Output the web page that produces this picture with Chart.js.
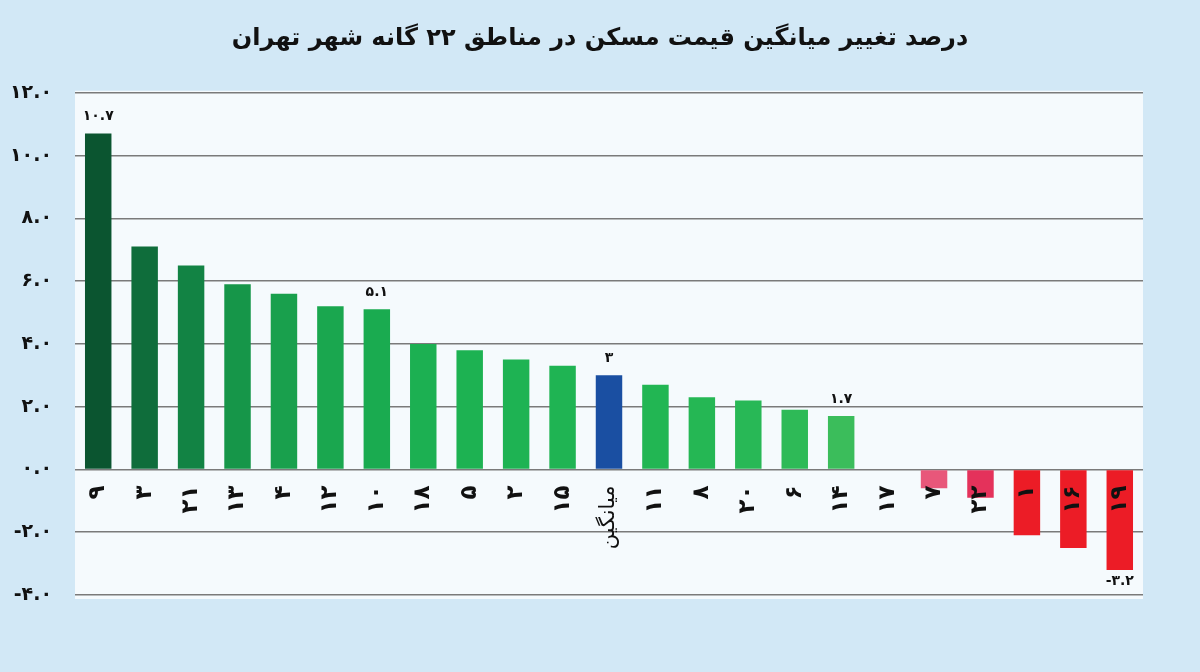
<!DOCTYPE html>
<html><head><meta charset="utf-8">
<script src="https://cdn.jsdelivr.net/npm/chart.js@4.4.1/dist/chart.umd.min.js"></script>
<style>html,body{margin:0;padding:0;background:#d2e8f6;} #wrap{width:1200px;height:672px;position:relative;}</style>
</head><body><div id="wrap"><canvas id="c"></canvas></div>
<script>
const chartTitle = 'درصد تغییر میانگین قیمت مسکن در مناطق ۲۲ گانه شهر تهران';
const categories = ['۹','۳','۲۱','۱۳','۴','۱۲','۱۰','۱۸','۵','۲','۱۵','میانگین','۱۱','۸','۲۰','۶','۱۴','۱۷','۷','۲۲','۱','۱۶','۱۹'];
const values = [10.7, 7.1, 6.5, 5.9, 5.6, 5.2, 5.1, 4.0, 3.8, 3.5, 3.3, 3.0, 2.7, 2.3, 2.2, 1.9, 1.7, 0, -0.6, -0.9, -2.1, -2.5, -3.2];
const valueLabels = ['۱۰.۷', null, null, null, null, null, '۵.۱', null, null, null, null, '۳', null, null, null, null, '۱.۷', null, null, null, null, null, '-۳.۲'];
const yTickValues = [-4, -2, 0, 2, 4, 6, 8, 10, 12];
const yTickLabels = ['-۴.۰', '-۲.۰', '۰.۰', '۲.۰', '۴.۰', '۶.۰', '۸.۰', '۱۰.۰', '۱۲.۰'];

const barColors = ['#0b5530', '#0f6d3b', '#128344', '#169649', '#19a04d', '#1aa74f', '#1aab50', '#1cb052', '#1db252', '#1eb353', '#1fb453', '#1a4fa2', '#22b653', '#25b754', '#28b856', '#2eba57', '#3bbd5b', '#3bbd5b', '#e8577a', '#e4325b', '#ec1c26', '#ec1c26', '#ec1c26'];

const bgPlugin = {
  id: 'bg',
  beforeDraw(chart) {
    const {ctx, chartArea: a} = chart;
    ctx.save();
    ctx.fillStyle = '#d2e8f6';
    ctx.fillRect(0, 0, chart.width, chart.height);
    ctx.fillStyle = '#f5fafd';
    ctx.fillRect(a.left, a.top - 2, a.right - a.left, a.bottom - a.top + 6);
    ctx.restore();
  }
};

const valueLabelPlugin = {
  id: 'valueLabels',
  afterDatasetsDraw(chart) {
    const meta = chart.getDatasetMeta(0);
    const ctx = chart.ctx;
    ctx.save();
    ctx.font = 'bold 14px "DejaVu Sans"';
    ctx.fillStyle = '#111';
    ctx.textAlign = 'center';
    meta.data.forEach((bar, i) => {
      const t = valueLabels[i];
      if (!t) return;
      if (values[i] < 0) {
        ctx.textBaseline = 'top';
        ctx.fillText(t, bar.x, bar.y + 4);
      } else {
        ctx.textBaseline = 'bottom';
        ctx.fillText(t, bar.x, bar.y - 10);
      }
    });
    ctx.restore();
  }
};

new Chart(document.getElementById('c'), {
  type: 'bar',
  data: {
    labels: categories,
    datasets: [{
      data: values,
      backgroundColor: barColors,
      borderWidth: 0,
      barPercentage: 0.57,
      categoryPercentage: 1.0
    }]
  },
  options: {
    responsive: true,
    maintainAspectRatio: false,
    animation: false,
    layout: { padding: { top: 0, right: 0, bottom: 77, left: 0 } },
    plugins: {
      legend: { display: false },
      tooltip: { enabled: false },
      title: {
        display: true,
        text: chartTitle,
        color: '#111',
        font: { family: 'DejaVu Sans', size: 24, weight: 'bold' },
        padding: { top: 24, bottom: 40 }
      }
    },
    scales: {
      x: {
        position: { y: 0 },
        grid: { display: false, drawTicks: false },
        border: { display: false },
        ticks: {
          z: 1,
          autoSkip: false,
          minRotation: 90,
          maxRotation: 90,
          padding: 16,
          color: '#111',
          font: (c) => (c.index === 11
            ? { family: 'DejaVu Sans', size: 21, weight: 'normal' }
            : { family: 'DejaVu Sans', size: 23, weight: 'bold' })
        }
      },
      y: {
        min: -4,
        max: 12,
        afterFit: (s) => { s.width = 75; },
        grid: { color: '#7a7a7a', lineWidth: 1.6, drawTicks: false },
        border: { display: false },
        ticks: {
          stepSize: 2,
          padding: 23,
          color: '#111',
          font: { family: 'DejaVu Sans', size: 19, weight: 'bold' },
          callback: (v) => yTickLabels[yTickValues.indexOf(v)]
        }
      },
      yRight: {
        position: 'right',
        min: -4,
        max: 12,
        afterFit: (s) => { s.width = 57; },
        grid: { display: false, drawTicks: false },
        border: { display: false },
        ticks: { display: false }
      }
    }
  },
  plugins: [bgPlugin, valueLabelPlugin]
});
</script>
</body></html>
